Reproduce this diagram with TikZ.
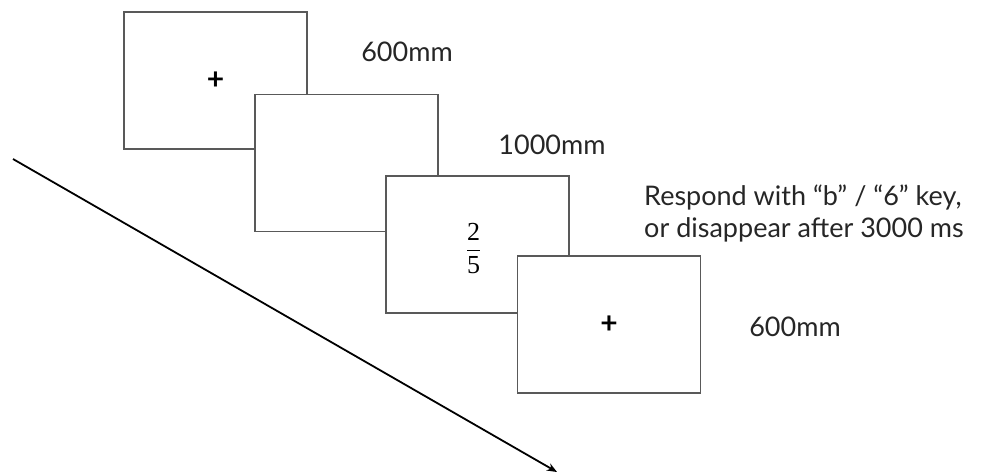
\documentclass[tikz,border=0pt]{standalone}
\usepackage{fontspec}
\setmainfont{Lato}
\newfontfamily\fracfont{Liberation Serif}
\usetikzlibrary{arrows.meta}
\begin{document}
\begin{tikzpicture}[x=1pt,y=-1pt,
  screen/.style={draw=black!65,line width=1.3pt,fill=white,
    minimum width=183pt,minimum height=137pt,inner sep=0pt},
  label/.style={font=\fontsize{27}{32}\selectfont,text=black!85,inner sep=0pt},
  cross/.style={font=\fontsize{30}{30}\selectfont\bfseries,inner sep=0pt}]
  \useasboundingbox (0,0) rectangle (986,474);
  % time axis
  \coordinate (t0) at (13,159);
  \coordinate (t1) at (557,472);
  \draw[line width=1.8pt,-{Stealth[length=10pt,width=8pt]}] (t0) -- (t1);
  % stimulus screens, each laid over the previous one
  \node[screen] (s1) at (215.5,80.5) {};
  \node[cross] at (s1) {+};
  \node[screen] (s2) at (346.5,163) {};
  \node[screen] (s3) at (477.5,244.5) {};
  \node[inner sep=0pt,font=\fontsize{26}{32}\selectfont] at ([xshift=-4pt,yshift=-4pt]s3.center)
    {$\displaystyle\frac{\mbox{\fracfont 2}}{\mbox{\fracfont 5}}$};
  \node[screen] (s4) at (609,324.5) {};
  \node[cross] at (s4) {+};
  % durations
  \node[label] (d1) at (407,52) {600mm};
  \node[label] (d2) at (552,145) {1000mm};
  \node[label,anchor=west,align=left] (d3) at (644,213)
    {Respond with “b” / “6” key,\\or disappear after 3000 ms};
  \node[label] (d4) at (795,327) {600mm};
\end{tikzpicture}
\end{document}
